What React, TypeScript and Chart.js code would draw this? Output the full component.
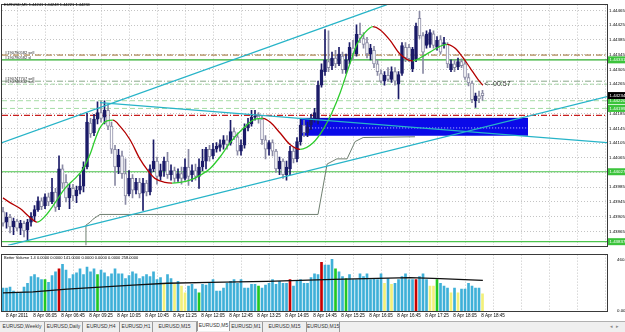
import React, { useEffect, useRef } from "react";
import { Chart, registerables } from "chart.js";

Chart.register(...registerables);

// ---------------- data ----------------
const headerText = "EURUSD,M5 1.44241 1.44248 1.44221 1.44234";
const volumeHeaderText = "Better Volume 1.4 0.0000 0.0000 141.0000 0.0000 0.0000 0.0000 258.0000";
const timerText = "<--00:57";

const timeLabels = [
  "8 Apr 2011", "8 Apr 06:05", "8 Apr 06:45", "8 Apr 09:25", "8 Apr 10:05", "8 Apr 10:45",
  "8 Apr 11:25", "8 Apr 12:05", "8 Apr 12:45", "8 Apr 13:25", "8 Apr 14:05", "8 Apr 14:45",
  "8 Apr 15:25", "8 Apr 16:05", "8 Apr 16:45", "8 Apr 17:25", "8 Apr 18:05", "8 Apr 18:45",
];
const gridIndex = [4, 12, 20, 28, 36, 44, 52, 60, 68, 76, 84, 92, 100, 108, 116, 124, 132, 140, 148, 156, 164, 172];
const priceTicks = [
  1.43865, 1.43905, 1.43945, 1.43985, 1.44025, 1.44065, 1.44105, 1.44145,
  1.44185, 1.44225, 1.44265, 1.44305, 1.44345, 1.44385, 1.44425, 1.44465,
];
const volumeTicks = [0, 460.9];

const opens = [
  1.43919, 1.4389, 1.43903, 1.43877, 1.43893, 1.43874, 1.43887, 1.43869, 1.4389, 1.43906,
  1.43924, 1.43948, 1.43935, 1.43959, 1.43945, 1.43972, 1.43932, 1.44035, 1.43998, 1.43956,
  1.43982, 1.43961, 1.43977, 1.43988, 1.4404, 1.44159, 1.44133, 1.4417, 1.44188, 1.44175,
  1.44194, 1.44151, 1.44088, 1.4404, 1.4407, 1.44022, 1.43967, 1.44009, 1.43977, 1.43998,
  1.43969, 1.43996, 1.43972, 1.44035, 1.44056, 1.44014, 1.4403, 1.44056, 1.44019, 1.4403,
  1.44009, 1.44022, 1.44009, 1.4404, 1.44019, 1.4403, 1.44014, 1.4404, 1.44056, 1.44088,
  1.4407, 1.44088, 1.44093, 1.44101, 1.44114, 1.44104, 1.44136, 1.44122, 1.44083, 1.44099,
  1.44146, 1.44157, 1.44175, 1.44178, 1.4417, 1.44114, 1.44088, 1.44106, 1.44083, 1.44035,
  1.44056, 1.44019, 1.44035, 1.44083, 1.44062, 1.44109, 1.44154, 1.44133, 1.44154, 1.44172,
  1.44167, 1.44262, 1.44299, 1.44326, 1.44315, 1.44336, 1.4432, 1.44341, 1.44304, 1.44331,
  1.44363, 1.44347, 1.444, 1.44389, 1.44378, 1.44347, 1.44357, 1.4432, 1.44294, 1.44273,
  1.44289, 1.44278, 1.44299, 1.44265, 1.44294, 1.44365, 1.44365, 1.44307, 1.44334, 1.44444,
  1.44397, 1.4437, 1.44373, 1.44402, 1.44365, 1.44386, 1.44373, 1.44373, 1.44304, 1.4432,
  1.44312, 1.44326, 1.4432, 1.44283, 1.44268, 1.4422, 1.44233, 1.44241,
];
const closes = [
  1.43887, 1.43903, 1.43877, 1.43893, 1.43874, 1.43887, 1.43866, 1.4389, 1.43906, 1.43924,
  1.43948, 1.43932, 1.43959, 1.43945, 1.43972, 1.4393, 1.44035, 1.43996, 1.43956, 1.43982,
  1.43961, 1.43977, 1.43988, 1.4404, 1.44162, 1.4413, 1.4417, 1.44188, 1.44172, 1.44194,
  1.44151, 1.44088, 1.4404, 1.44072, 1.44022, 1.43961, 1.44009, 1.43977, 1.43998, 1.43967,
  1.43996, 1.43972, 1.44035, 1.44056, 1.44014, 1.4403, 1.44056, 1.44019, 1.4403, 1.44009,
  1.44022, 1.44009, 1.4404, 1.44014, 1.4403, 1.44014, 1.4404, 1.44056, 1.44088, 1.44067,
  1.44088, 1.44096, 1.44101, 1.44114, 1.44101, 1.44136, 1.44122, 1.44083, 1.44099, 1.44146,
  1.44157, 1.44175, 1.44178, 1.4417, 1.44114, 1.44088, 1.44106, 1.44083, 1.44035, 1.44056,
  1.44019, 1.4404, 1.44083, 1.44062, 1.44109, 1.44154, 1.44133, 1.44149, 1.44172, 1.44188,
  1.44262, 1.44304, 1.44331, 1.4431, 1.44336, 1.4432, 1.44347, 1.44304, 1.44331, 1.44365,
  1.44347, 1.444, 1.44389, 1.44373, 1.44347, 1.44363, 1.4432, 1.44299, 1.44273, 1.44289,
  1.44278, 1.44299, 1.44273, 1.44291, 1.4437, 1.44336, 1.44334, 1.4436, 1.44423, 1.44397,
  1.44352, 1.444, 1.44405, 1.4437, 1.44384, 1.44352, 1.44378, 1.4432, 1.4432, 1.4431,
  1.44326, 1.44315, 1.44283, 1.44268, 1.44223, 1.44233, 1.44225, 1.44234,
];
const highs = [
  1.4393, 1.43916, 1.43911, 1.43901, 1.43898, 1.43895, 1.43893, 1.43898, 1.43916, 1.43935,
  1.43959, 1.43956, 1.43967, 1.43969, 1.44009, 1.43982, 1.4407, 1.44046, 1.44019, 1.43993,
  1.43993, 1.43988, 1.44019, 1.44054, 1.44186, 1.44172, 1.44183, 1.44217, 1.4422, 1.4422,
  1.44209, 1.44162, 1.44099, 1.44088, 1.44083, 1.44062, 1.4403, 1.44019, 1.44009, 1.44009,
  1.44009, 1.44004, 1.44046, 1.44114, 1.44067, 1.44048, 1.44067, 1.4408, 1.44046, 1.4404,
  1.44035, 1.4404, 1.44062, 1.44088, 1.44046, 1.44048, 1.44062, 1.44088, 1.44093, 1.44099,
  1.44104, 1.44106, 1.44114, 1.44125, 1.44125, 1.44167, 1.44146, 1.44133, 1.44114, 1.44157,
  1.44172, 1.44194, 1.44194, 1.44188, 1.44178, 1.44125, 1.44112, 1.44114, 1.44088, 1.44067,
  1.44062, 1.44056, 1.44096, 1.44093, 1.4412, 1.44172, 1.44167, 1.44162, 1.44183, 1.44199,
  1.44273, 1.4432, 1.44413, 1.4441, 1.44352, 1.44357, 1.44365, 1.44352, 1.44347, 1.44378,
  1.44384, 1.44426, 1.44431, 1.44405, 1.44392, 1.44373, 1.44368, 1.44331, 1.44304, 1.44299,
  1.4431, 1.44312, 1.4431, 1.44299, 1.44378, 1.44378, 1.44373, 1.44365, 1.44431, 1.44463,
  1.44405, 1.4441, 1.44413, 1.4441, 1.44394, 1.44397, 1.44392, 1.44378, 1.44331, 1.44331,
  1.44336, 1.44334, 1.44331, 1.44294, 1.44273, 1.44241, 1.44246, 1.44248,
];
const lows = [
  1.43879, 1.43874, 1.43861, 1.43856, 1.43866, 1.43856, 1.4385, 1.4384, 1.43879, 1.43893,
  1.43919, 1.43924, 1.43927, 1.43935, 1.4394, 1.43919, 1.43924, 1.43982, 1.43945, 1.43927,
  1.43948, 1.43943, 1.43967, 1.43972, 1.44035, 1.4412, 1.44125, 1.44157, 1.44162, 1.44157,
  1.44141, 1.44077, 1.4399, 1.44022, 1.44009, 1.43938, 1.43961, 1.43956, 1.43967, 1.43956,
  1.43922, 1.43961, 1.43964, 1.44027, 1.43993, 1.44004, 1.44014, 1.44009, 1.44004, 1.43998,
  1.44001, 1.43993, 1.44004, 1.4399, 1.44001, 1.44004, 1.43982, 1.4403, 1.44035, 1.44056,
  1.44062, 1.4408, 1.44083, 1.44088, 1.44088, 1.44099, 1.44114, 1.44072, 1.44072, 1.44091,
  1.44138, 1.44151, 1.44167, 1.44159, 1.44101, 1.44062, 1.44072, 1.4407, 1.44025, 1.44019,
  1.44009, 1.44004, 1.44019, 1.44051, 1.44054, 1.44099, 1.44122, 1.44122, 1.44141, 1.44162,
  1.44157, 1.44257, 1.44289, 1.44299, 1.44304, 1.4431, 1.44315, 1.44294, 1.44294, 1.4432,
  1.44331, 1.44341, 1.44378, 1.44363, 1.44336, 1.44331, 1.4431, 1.44289, 1.44268, 1.44262,
  1.44273, 1.4427, 1.44262, 1.44225, 1.44289, 1.44326, 1.44326, 1.44299, 1.44326, 1.44389,
  1.44294, 1.44363, 1.44365, 1.44363, 1.44357, 1.44347, 1.44363, 1.4431, 1.44299, 1.44299,
  1.44304, 1.4431, 1.44278, 1.4426, 1.44215, 1.44202, 1.44215, 1.44221,
];

const volumes = [
  205, 205, 214, 179, 162, 162, 214, 248, 307, 325,
  299, 282, 282, 256, 316, 350, 376, 418, 367, 290,
  325, 342, 376, 325, 393, 350, 376, 325, 367, 342,
  307, 333, 376, 333, 333, 290, 316, 350, 333, 290,
  307, 325, 307, 350, 282, 299, 248, 325, 290, 239,
  265, 222, 162, 222, 239, 196, 162, 239, 231, 248,
  282, 179, 179, 205, 248, 265, 282, 248, 282, 205,
  205, 239, 239, 222, 205, 231, 248, 282, 239, 265,
  248, 248, 282, 222, 265, 282, 248, 248, 299, 333,
  325, 436, 410, 410, 461, 376, 350, 307, 290, 325,
  282, 282, 333, 307, 333, 282, 290, 282, 333, 248,
  290, 239, 248, 282, 307, 333, 282, 282, 282, 307,
  333, 282, 222, 222, 282, 248, 222, 205, 162, 205,
  162, 196, 196, 248, 222, 205, 205, 154,
];
const volumeGreenBars = [12, 27, 56, 73, 95, 98, 124];
const volumeRedBars = [16, 82, 91, 118];
const volumeYellowBars = [46, 49, 51, 52, 109, 111, 122, 123, 128, 130, 137];

const avgVolumeIndex = [0, 8.6, 18.3, 27.7, 37.1, 46.9, 59.1, 75.4, 94.3, 116.3, 124.9, 137.1];
const avgVolumeValue = [162, 171, 196, 214, 231, 248, 256, 265, 282, 299, 290, 273];

const maIndex = [
  0, 2, 4.9, 7.7, 9.7, 12, 14.9, 17.7, 20.6, 22.9, 24.9, 26.3, 27.7, 29.7, 31.4, 33.4, 36.3, 39.1,
  41.4, 43.4, 46.3, 48.3, 50.6, 53.4, 56.3, 59.1, 62, 64.9, 69.1, 72, 74.3, 76.3, 79.1, 82, 84.9,
  88.6, 91.4, 94, 96.3, 99.1, 101.1, 103.4, 105.7, 107.7, 110.6, 113.4, 117.1, 119.1, 122, 124.9,
  126.9, 129.1, 131.1, 133.4, 135.7, 137.1,
];
const maPrice = [
  1.43956, 1.43943, 1.43927, 1.43903, 1.4389, 1.43906, 1.43943, 1.43982, 1.44009, 1.44035,
  1.44075, 1.44114, 1.44146, 1.44165, 1.44167, 1.44151, 1.44114, 1.44062, 1.4403, 1.44009,
  1.43998, 1.43996, 1.43998, 1.44004, 1.44017, 1.44035, 1.44067, 1.44106, 1.44149, 1.4417,
  1.44172, 1.44162, 1.44133, 1.44101, 1.44088, 1.44106, 1.44141, 1.44188, 1.44241, 1.4432,
  1.44373, 1.44405, 1.44421, 1.44413, 1.44384, 1.44347, 1.44328, 1.44336, 1.44352, 1.44368,
  1.44373, 1.44363, 1.44341, 1.4431, 1.44278, 1.44262,
];

const stepIndex = [23.7, 23.7, 24.9, 25.7, 27.7, 90, 91.1, 92.6, 95.4, 98.3, 100.6, 102.9, 117.7];
const stepPrice = [
  1.43824, 1.43882, 1.4389, 1.43898, 1.43911, 1.43911, 1.43969, 1.44048, 1.44062, 1.44062,
  1.44109, 1.4412, 1.44122,
];

const upperChannelIndex = [-0.3, 109.7];
const upperChannelPrice = [1.44106, 1.44481];
const lowerChannelIndex = [1.4, 172.6];
const lowerChannelPrice = [1.43827, 1.44231];
const trendIndex = [27.7, 172.6];
const trendPrice = [1.44215, 1.44106];

const boxIndex = [84.9, 150];
const boxTop = 1.44172;
const boxBottom = 1.44125;
const boxMid = 1.44146;

const sellLevelA = 1.44344;
const stopLevelA = 1.44331;
const sellLevelB = 1.44273;
const sellLevelC = 1.44265;
const pendingLevel1 = 1.4422;
const pendingLevel2 = 1.44199;
const redLevel = 1.4418;
const supportLevel1 = 1.44027;
const supportLevel2 = 1.43837;
const bidPrice = 1.44234;
const timerPrice = 1.44265;

const orderNotes = ["#190790582 sell", "#190790582 sl", "#190747707 sell", "#190748832 sell"];
const orderNotePrices = [sellLevelA, stopLevelA, sellLevelB, sellLevelC];

const tabs = [
  "EURUSD,Weekly", "EURUSD,Daily", "EURUSD,H4", "EURUSD,H1", "EURUSD,M15",
  "EURUSD,M5", "EURUSD,M1", "EURUSD,M15", "EURUSD,M15",
];
const activeTab = 5;

// ---------------- layout / style ----------------
const X_MIN = -0.29;
const X_MAX = 172.57;
const P_MIN = 1.43827;
const P_MAX = 1.44481;
const V_MAX = 504;
const FONT = "'Liberation Sans', Arial, sans-serif";
const tabWidths = [45, 38, 37, 33, 44, 33, 33, 44, 33];

const BULL = "#1b1b68";
const BEAR_EDGE = "#8a8aa4";
const CYAN = "#27b4c8";

Chart.defaults.font.family = FONT;

function seg(xs: number[], ys: number[]) {
  return xs.map((x, k) => ({ x, y: ys[k] }));
}

const framePlugin = {
  id: "frame",
  afterDraw(chart: any) {
    const { ctx, chartArea: a } = chart;
    ctx.save();
    ctx.strokeStyle = "#3a3a3a";
    ctx.lineWidth = 1;
    ctx.strokeRect(
      Math.round(a.left) - 0.5,
      Math.round(a.top) - 0.5,
      Math.round(a.right - a.left) + 1,
      Math.round(a.bottom - a.top) + 1
    );
    ctx.restore();
  },
};

const annotationsPlugin = {
  id: "mtAnnotations",
  afterDraw(chart: any) {
    const { ctx, chartArea: a, scales } = chart;
    const y = scales.y;
    const x = scales.x;
    ctx.save();
    ctx.font = `4px ${FONT}`;
    ctx.fillStyle = "#2a2a2a";
    ctx.textBaseline = "middle";
    ctx.textAlign = "left";
    orderNotes.forEach((t, k) => {
      ctx.fillText(t, a.left + 3, y.getPixelForValue(orderNotePrices[k]) - 2);
    });
    ctx.font = `7px ${FONT}`;
    ctx.fillStyle = "#333";
    ctx.fillText(timerText, x.getPixelForValue(137.5), y.getPixelForValue(timerPrice));
    const tags = [
      { p: stopLevelA, bg: "#3cc43c", fg: "#ffffff" },
      { p: pendingLevel1, bg: "#3cc43c", fg: "#ffffff" },
      { p: pendingLevel2, bg: "#3cc43c", fg: "#ffffff" },
      { p: supportLevel1, bg: "#3cc43c", fg: "#ffffff" },
      { p: supportLevel2, bg: "#3cc43c", fg: "#ffffff" },
      { p: bidPrice, bg: "#000000", fg: "#ffffff" },
    ];
    ctx.font = `4.4px ${FONT}`;
    tags.forEach((t) => {
      const py = y.getPixelForValue(t.p);
      ctx.fillStyle = t.bg;
      ctx.fillRect(a.right + 1, py - 3.5, 17, 7);
      ctx.fillStyle = t.fg;
      ctx.fillText(t.p.toFixed(5), a.right + 2.5, py);
    });
    ctx.restore();
  },
};

function MainChart() {
  const ref = useRef<HTMLCanvasElement | null>(null);
  useEffect(() => {
    if (!ref.current) return;
    const idx = opens.map((_, i) => i);
    const bull = (i: number) => closes[i] >= opens[i];
    const line = (pts: any[], color: string, width: number, dash: number[], order: number, extra: any = {}) => ({
      type: "line",
      data: pts,
      borderColor: color,
      borderWidth: width,
      borderDash: dash,
      pointRadius: 0,
      fill: false,
      order,
      ...extra,
    });
    const hl = (p: number, color: string, width: number, dash: number[]) =>
      line([{ x: X_MIN, y: p }, { x: X_MAX, y: p }], color, width, dash, 9);

    const chart = new Chart(ref.current, {
      type: "bar",
      data: {
        datasets: [
          line(seg(boxIndex, [boxTop, boxTop]), "#0000c0", 1, [], 12, {
            fill: { value: boxBottom },
            backgroundColor: "#0a0ae8",
          }),
          line(seg(boxIndex, [boxMid, boxMid]), "#c8c8ff", 1, [1, 2], 11),
          hl(sellLevelA, "#9a6a2a", 1, [6, 2, 1, 2]),
          hl(stopLevelA, "#2fae2f", 1.2, []),
          hl(sellLevelB, "#8aa88a", 1, [6, 2, 1, 2]),
          hl(sellLevelC, "#a6d8a6", 1, [4, 3]),
          hl(pendingLevel1, "#a6dca6", 1, [5, 3]),
          hl(pendingLevel2, "#a6dca6", 1, [5, 3]),
          hl(redLevel, "#c81e1e", 1.2, [6, 2, 1, 2]),
          hl(supportLevel1, "#4cc44c", 1.2, []),
          hl(supportLevel2, "#4cc44c", 1.2, []),
          line(seg(stepIndex, stepPrice), "#6f7f70", 1, [], 8),
          {
            type: "bar",
            data: idx.map((i) => ({ x: i, y: [lows[i], highs[i]] })),
            backgroundColor: idx.map((i) => (bull(i) ? BULL : BEAR_EDGE)),
            barThickness: 1,
            grouped: false,
            order: 6,
          },
          {
            type: "bar",
            data: idx.map((i) => ({ x: i, y: [opens[i], closes[i]] })),
            backgroundColor: idx.map((i) => (bull(i) ? BULL : "#ffffff")),
            borderColor: idx.map((i) => (bull(i) ? BULL : BEAR_EDGE)),
            borderWidth: 1,
            borderSkipped: false,
            barThickness: 3,
            minBarLength: 1,
            grouped: false,
            order: 5,
          },
          line(seg(maIndex, maPrice), "#2ecc2e", 1.3, [], 3, {
            cubicInterpolationMode: "monotone",
            segment: {
              borderColor: (c: any) => (c.p1.parsed.y >= c.p0.parsed.y ? "#2ecc2e" : "#b40000"),
            },
          }),
          line(seg(upperChannelIndex, upperChannelPrice), CYAN, 1.3, [], 2),
          line(seg(lowerChannelIndex, lowerChannelPrice), CYAN, 1.3, [], 2),
          line(seg(trendIndex, trendPrice), CYAN, 1.3, [], 2),
        ] as any,
      },
      options: {
        responsive: false,
        animation: false,
        devicePixelRatio: 1,
        events: [],
        layout: { padding: { left: 2, top: 1, right: 0, bottom: 1 } },
        plugins: { legend: { display: false }, tooltip: { enabled: false } },
        scales: {
          x: {
            type: "linear",
            min: X_MIN,
            max: X_MAX,
            offset: false,
            afterBuildTicks: (s: any) => {
              s.ticks = gridIndex.map((v) => ({ value: v }));
            },
            ticks: { display: false },
            grid: { color: "#c4c4c4", drawTicks: false, offset: false },
            border: { display: false, dash: [1, 2] },
          },
          y: {
            type: "linear",
            position: "right",
            min: P_MIN,
            max: P_MAX,
            afterBuildTicks: (s: any) => {
              s.ticks = priceTicks.map((v) => ({ value: v }));
            },
            afterFit: (s: any) => {
              s.width = 18;
            },
            ticks: {
              font: { size: 4.4 },
              color: "#000",
              padding: 2,
              autoSkip: false,
              callback: (v: any) => Number(v).toFixed(5),
            },
            grid: { color: "#c4c4c4", drawTicks: false },
            border: { display: false, dash: [1, 2] },
          },
        },
      } as any,
      plugins: [annotationsPlugin, framePlugin],
    });
    return () => chart.destroy();
  }, []);
  return <canvas ref={ref} width={625} height={250} style={{ position: "absolute", left: 0, top: 0 }} />;
}

function VolumeChart() {
  const ref = useRef<HTMLCanvasElement | null>(null);
  useEffect(() => {
    if (!ref.current) return;
    const idx = volumes.map((_, i) => i);
    const colorOf = (i: number) =>
      volumeRedBars.includes(i)
        ? "#c80000"
        : volumeGreenBars.includes(i)
        ? "#22c822"
        : volumeYellowBars.includes(i)
        ? "#f2f07a"
        : "#3fb0d8";
    const chart = new Chart(ref.current, {
      type: "bar",
      data: {
        datasets: [
          {
            type: "bar",
            data: idx.map((i) => ({ x: i, y: volumes[i] })),
            backgroundColor: idx.map(colorOf),
            barThickness: 2,
            grouped: false,
            order: 2,
          },
          {
            type: "line",
            data: seg(avgVolumeIndex, avgVolumeValue),
            borderColor: "#111111",
            borderWidth: 1.3,
            pointRadius: 0,
            fill: false,
            order: 1,
          },
        ] as any,
      },
      options: {
        responsive: false,
        animation: false,
        devicePixelRatio: 1,
        events: [],
        layout: { padding: { left: 2, top: 2, right: 0, bottom: 0 } },
        plugins: { legend: { display: false }, tooltip: { enabled: false } },
        scales: {
          x: {
            type: "linear",
            min: X_MIN,
            max: X_MAX,
            offset: false,
            afterBuildTicks: (s: any) => {
              s.ticks = gridIndex.map((v) => ({ value: v }));
            },
            afterFit: (s: any) => {
              s.height = 11;
            },
            ticks: {
              font: { size: 4.6 },
              color: "#000",
              padding: 2,
              autoSkip: false,
              maxRotation: 0,
              callback: (_v: any, k: number) => timeLabels[k] ?? "",
            },
            grid: { color: "#c4c4c4", drawTicks: false, offset: false },
            border: { display: false, dash: [1, 2] },
          },
          y: {
            type: "linear",
            position: "right",
            min: 0,
            max: V_MAX,
            afterBuildTicks: (s: any) => {
              s.ticks = volumeTicks.map((v) => ({ value: v }));
            },
            afterFit: (s: any) => {
              s.width = 18;
            },
            ticks: {
              font: { size: 4.4 },
              color: "#000",
              padding: 2,
              callback: (v: any) => (Number(v) === 0 ? "0.00" : Number(v).toFixed(1)),
            },
            grid: { display: false },
            border: { display: false },
          },
        },
      } as any,
      plugins: [framePlugin],
    });
    return () => chart.destroy();
  }, []);
  return <canvas ref={ref} width={625} height={72} style={{ position: "absolute", left: 0, top: 250 }} />;
}

export default function App() {
  return (
    <div
      style={{
        position: "fixed",
        left: 0,
        top: 0,
        width: 625,
        height: 332,
        background: "#ffffff",
        overflow: "hidden",
        fontFamily: FONT,
      }}
    >
      <MainChart />
      <VolumeChart />
      <div style={{ position: "absolute", left: 4, top: 2, fontSize: 4, lineHeight: "6px", color: "#000", whiteSpace: "nowrap" }}>
        {headerText}
      </div>
      <div style={{ position: "absolute", left: 4, top: 255, fontSize: 4, lineHeight: "6px", color: "#000", whiteSpace: "nowrap" }}>
        {volumeHeaderText}
      </div>
      <div
        style={{
          position: "absolute",
          left: 0,
          top: 321,
          width: 625,
          height: 11,
          background: "#efefef",
          borderTop: "1px solid #b0b0b0",
          boxSizing: "border-box",
          display: "flex",
        }}
      >
        {tabs.map((t, k) => (
          <div
            key={k}
            style={{
              width: tabWidths[k],
              height: 10,
              boxSizing: "border-box",
              fontSize: 5,
              lineHeight: "9px",
              textAlign: "center",
              color: "#333",
              whiteSpace: "nowrap",
              borderRight: "1px solid #9a9a9a",
              background: k === activeTab ? "#ffffff" : "transparent",
              borderLeft: k === activeTab ? "1px solid #9a9a9a" : "none",
              marginTop: k === activeTab ? -1 : 0,
            }}
          >
            {t}
          </div>
        ))}
        <div style={{ position: "absolute", right: 3, top: 1, fontSize: 5, color: "#888", letterSpacing: 3 }}>◂▸</div>
      </div>
    </div>
  );
}
